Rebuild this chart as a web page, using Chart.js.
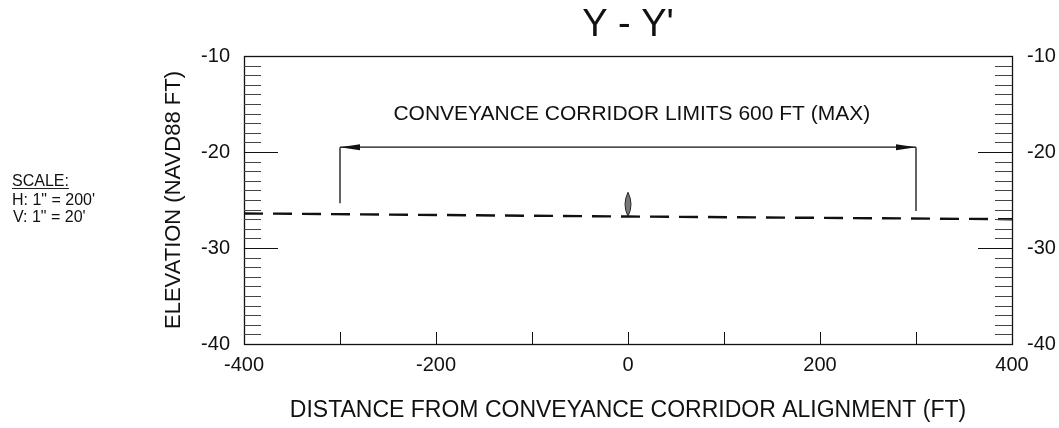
<!DOCTYPE html>
<html>
<head>
<meta charset="utf-8">
<script src="https://cdn.jsdelivr.net/npm/chart.js@4"></script>
<style>
  body { margin: 0; background: #fff; }
  #wrap { width: 1059px; height: 428px; }
</style>
</head>
<body>
<div id="wrap"><canvas id="sectionChart" width="1059" height="428"></canvas></div>
<script>
// profile
const groundX = [-400, 0, 400];
const groundY = [-26.4, -26.72, -27.0];

// corridor limits dimension
const limitX = [-300, 300];
const limitLineY = -19.5;
const limitFootY = [-25.35, -26.15];
const limitText = "CONVEYANCE CORRIDOR LIMITS 600 FT (MAX)";

// alignment marker at station 0
const markerX = 0;
const markerTop = -24.2;
const markerBase = -26.7;

// axes
const xRange = [-400, 400];
const yRange = [-40, -10];
const xTickMarks = [-300, -200, -100, 0, 100, 200, 300];
const yMajorMarks = [-20, -30];
const yMinorMarks = [-39, -38, -37, -36, -35, -34, -33, -32, -31,
  -29, -28, -27, -26, -25, -24, -23, -22, -21,
  -19, -18, -17, -16, -15, -14, -13, -12, -11];

const scaleNote = ["SCALE:", "H: 1\" = 200'", "V: 1\" = 20'"];

document.addEventListener("DOMContentLoaded", () => {
  const FONT = '"Liberation Sans", Arial, sans-serif';
  Chart.defaults.font.family = FONT;
  Chart.defaults.color = "#111";

  const toPts = (xs, ys) => xs.map((v, i) => ({ x: v, y: ys[i] }));

  const drawing = {
    id: "drawing",
    afterDatasetsDraw(chart) {
      const { ctx, chartArea: a, scales: { x, y } } = chart;
      ctx.save();

      // frame
      ctx.strokeStyle = "#111";
      ctx.lineWidth = 1.3;
      ctx.strokeRect(a.left + 0.5, a.top + 0.5, a.right - a.left, a.bottom - a.top);

      // inside tick marks on both elevation axes
      ctx.lineWidth = 1;
      const yTick = (v, len) => {
        const py = Math.round(y.getPixelForValue(v)) + 0.5;
        ctx.beginPath();
        ctx.moveTo(a.left, py); ctx.lineTo(a.left + len, py);
        ctx.moveTo(a.right, py); ctx.lineTo(a.right - len, py);
        ctx.stroke();
      };
      ctx.strokeStyle = "#444";
      yMinorMarks.forEach(v => yTick(v, 17));
      ctx.strokeStyle = "#111";
      yMajorMarks.forEach(v => yTick(v, 34));

      xTickMarks.forEach(v => {
        const px = Math.round(x.getPixelForValue(v)) + 0.5;
        ctx.beginPath();
        ctx.moveTo(px, a.bottom); ctx.lineTo(px, a.bottom - 12);
        ctx.stroke();
      });

      // arrow heads
      const ay = y.getPixelForValue(limitLineY);
      const arrow = (v, dir) => {
        const px = x.getPixelForValue(v);
        ctx.beginPath();
        ctx.moveTo(px, ay);
        ctx.lineTo(px + dir * 20, ay - 3);
        ctx.lineTo(px + dir * 20, ay + 3);
        ctx.closePath();
        ctx.fillStyle = "#111";
        ctx.fill();
      };
      arrow(limitX[0], 1);
      arrow(limitX[1], -1);

      // dimension text
      ctx.fillStyle = "#111";
      ctx.font = "21px " + FONT;
      ctx.textAlign = "center";
      ctx.textBaseline = "middle";
      ctx.fillText(limitText, x.getPixelForValue(4), y.getPixelForValue(-16.1));

      // alignment marker (lens)
      const cx = x.getPixelForValue(markerX);
      const t = y.getPixelForValue(markerTop);
      const b = y.getPixelForValue(markerBase);
      const m = (t + b) / 2;
      ctx.beginPath();
      ctx.moveTo(cx, t);
      ctx.quadraticCurveTo(cx + 6, m, cx, b);
      ctx.quadraticCurveTo(cx - 6, m, cx, t);
      ctx.fillStyle = "#777";
      ctx.fill();
      ctx.strokeStyle = "#222";
      ctx.lineWidth = 1;
      ctx.stroke();

      // scale note
      ctx.textAlign = "left";
      ctx.textBaseline = "alphabetic";
      ctx.font = "16px " + FONT;
      ctx.fillStyle = "#111";
      ctx.fillText(scaleNote[0], 12, 185.5);
      const w = ctx.measureText(scaleNote[0]).width;
      ctx.beginPath();
      ctx.moveTo(12, 188.5); ctx.lineTo(12 + w, 188.5);
      ctx.stroke();
      ctx.fillText(scaleNote[1], 12, 204.5);
      ctx.fillText(scaleNote[2], 13, 221.5);

      ctx.restore();
    }
  };

  const lineStyle = { showLine: true, pointRadius: 0, borderColor: "#111", borderWidth: 1.3, fill: false };

  new Chart(document.getElementById("sectionChart"), {
    type: "scatter",
    data: {
      datasets: [
        {
          ...lineStyle,
          data: toPts(groundX, groundY),
          borderColor: "#111",
          borderWidth: 2.4,
          borderDash: [19, 10],
        },
        { ...lineStyle, data: toPts(limitX, [limitLineY, limitLineY]) },
        { ...lineStyle, data: [{ x: limitX[0], y: limitFootY[0] }, { x: limitX[0], y: limitLineY }] },
        { ...lineStyle, data: [{ x: limitX[1], y: limitFootY[1] }, { x: limitX[1], y: limitLineY }] },
      ],
    },
    options: {
      responsive: false,
      animation: false,
      layout: { padding: { left: 160, right: 0, top: 0, bottom: 0 } },
      plugins: {
        legend: { display: false },
        tooltip: { enabled: false },
        title: {
          display: true,
          fullSize: false,
          text: "Y - Y'",
          color: "#111",
          font: { size: 38, weight: "normal" },
          padding: { top: 3, bottom: 7.4 },
        },
      },
      scales: {
        x: {
          type: "linear",
          min: xRange[0],
          max: xRange[1],
          grid: { display: false, drawTicks: false },
          border: { display: false },
          ticks: { stepSize: 200, padding: 9, color: "#111", font: { size: 20 } },
          title: {
            display: true,
            text: "DISTANCE FROM CONVEYANCE CORRIDOR ALIGNMENT (FT)",
            color: "#111",
            font: { size: 23 },
            padding: { top: 0, bottom: 4 },
          },
          afterFit: (s) => { s.height = 84; },
        },
        y: {
          position: "left",
          min: yRange[0],
          max: yRange[1],
          grid: { display: false, drawTicks: false },
          border: { display: false },
          ticks: { stepSize: 10, padding: 14, color: "#111", font: { size: 20 } },
          title: {
            display: true,
            text: "ELEVATION (NAVD88 FT)",
            color: "#111",
            font: { size: 22 },
            padding: { top: 0.5, bottom: 0 },
          },
          afterFit: (s) => { s.width = 84; },
        },
        y2: {
          position: "right",
          min: yRange[0],
          max: yRange[1],
          grid: { display: false, drawTicks: false },
          border: { display: false },
          ticks: { stepSize: 10, padding: 15, color: "#111", font: { size: 20 } },
          afterFit: (s) => { s.width = 47; },
        },
      },
    },
    plugins: [drawing],
  });
});
</script>
</body>
</html>
